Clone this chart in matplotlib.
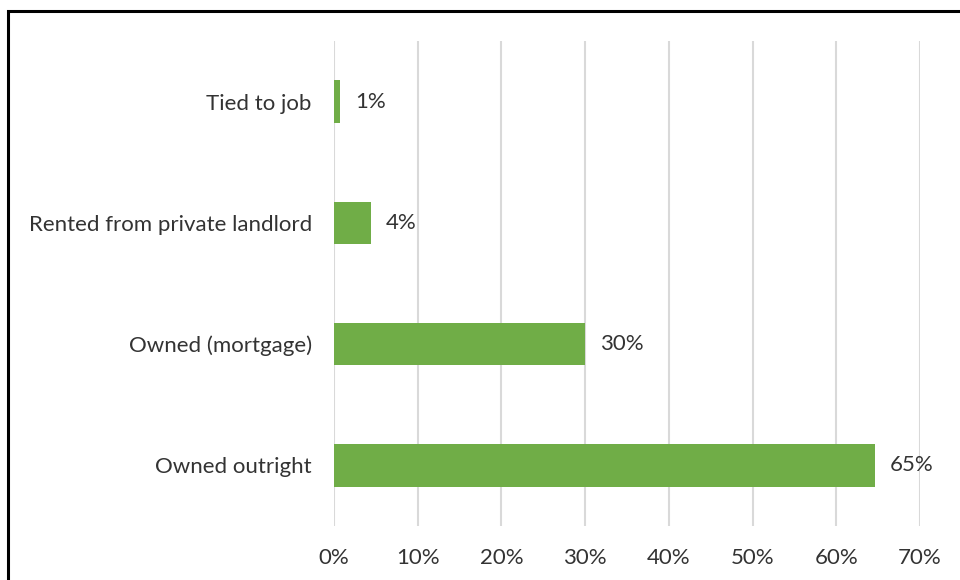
import matplotlib.pyplot as plt
from matplotlib.patches import Rectangle

categories = ['Owned outright', 'Owned (mortgage)', 'Rented from private landlord', 'Tied to job']
shares = [64.6, 30.0, 4.4, 0.7]
ticks = [0, 10, 20, 30, 40, 50, 60, 70]

plt.rcParams['font.family'] = ['Lato', 'DejaVu Sans']
text_col = '#333333'
fs = 16

fig = plt.figure(figsize=(9.6, 5.8), dpi=100)
ax = fig.add_axes([334 / 960, 1 - 526 / 580, (920 - 334) / 960, (526 - 41) / 580])

# frame around the chart area
fig.patches.append(Rectangle((8 / 960, -0.1), 1.2, 1.1 - 11 / 580, transform=fig.transFigure,
                             fill=False, edgecolor='black', linewidth=2.2))

ypos = range(len(categories))
ax.barh(ypos, shares, height=0.35, color='#70ad47', zorder=2)
for y, v in zip(ypos, shares):
    ax.annotate(f'{v:.0f}%', (v, y), xytext=(11, 0), textcoords='offset points',
                ha='left', va='center', fontsize=fs, color=text_col)

ax.set_yticks(list(ypos))
ax.set_yticklabels(categories)
ax.set_xticks(ticks)
ax.set_xticklabels([f'{t}%' for t in ticks])
ax.set_xlim(0, 70)
ax.set_ylim(-0.5, len(categories) - 0.5)
ax.grid(axis='x', color='#d9d9d9', linewidth=1.5, zorder=0)
ax.tick_params(length=0, labelsize=fs, labelcolor=text_col)
ax.tick_params(axis='y', pad=16)
ax.tick_params(axis='x', pad=16)
for s in ax.spines.values():
    s.set_visible(False)

fig.savefig('out.png', dpi=100)
